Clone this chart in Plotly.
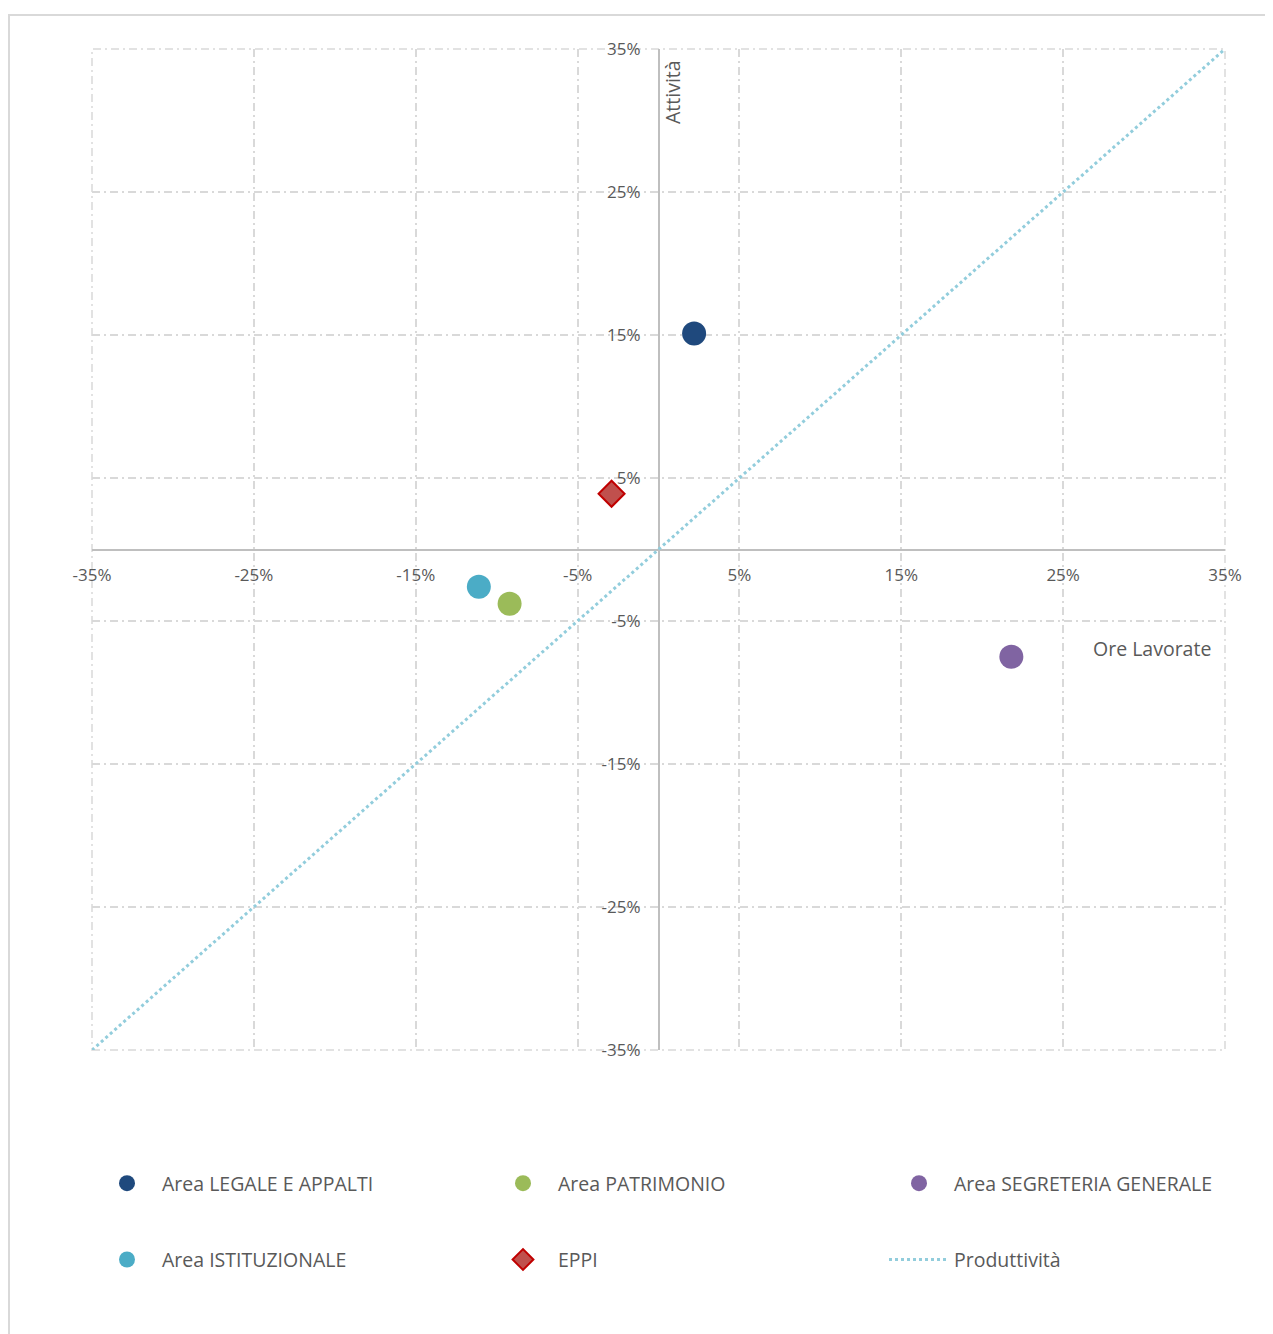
import plotly.graph_objects as go

# ---- data (percent) ----
series_names = ["Area LEGALE E APPALTI", "Area PATRIMONIO", "Area SEGRETERIA GENERALE",
                "Area ISTITUZIONALE", "EPPI"]
ore_lavorate = [2.2, -9.2, 21.8, -11.1, -2.9]
attivita = [15.1, -3.8, -7.5, -2.6, 3.9]
line_name = "Produttività"
line_x = [-35, 35]
line_y = [-35, 35]
tick_vals = [-35, -25, -15, -5, 5, 15, 25, 35]
tick_text = ["-35%", "-25%", "-15%", "-5%", "5%", "15%", "25%", "35%"]

colors = ["#1f497d", "#9bbb59", "#8064a2", "#4bacc6", "#c0504d"]
legend_ids = ["legend", "legend2", "legend3", "legend", "legend2"]
legend_rows = ["r1", "r1", "r1", "r2", "r2"]

FONT = "Open Sans"
TXT = "#595959"
GRID = "#d9d9d9"
DASHDOT = "8px,4px,2px,4px"

W, H = 1265, 1326  # page has an 8px body margin

fig = go.Figure()
for i, name in enumerate(series_names):
    if name == "EPPI":
        marker = dict(symbol="diamond", size=20, color=colors[i],
                      line=dict(color="#c00000", width=2))
    else:
        marker = dict(symbol="circle", size=24, color=colors[i], line=dict(width=0))
    fig.add_trace(go.Scatter(x=[ore_lavorate[i]], y=[attivita[i]], mode="markers",
                             name=name, marker=marker, legend=legend_ids[i],
                             legendgroup=legend_rows[i]))

fig.add_trace(go.Scatter(x=line_x, y=line_y, mode="lines", name=line_name,
                         line=dict(color="#92cddc", width=3, dash="dot"),
                         legend="legend3", legendgroup="r2"))

axis_common = dict(
    range=[-35, 35], tickmode="array", tickvals=tick_vals, ticktext=tick_text,
    showgrid=True, gridcolor=GRID, gridwidth=1.5, griddash=DASHDOT,
    zeroline=True, zerolinecolor="#bfbfbf", zerolinewidth=2,
    showline=False, ticks="", anchor="free", position=0.5,
    tickfont=dict(family=FONT, size=17, color=TXT), automargin=False,
)

legend_common = dict(orientation="v", xref="container", yref="container",
                     xanchor="left", yanchor="top", y=1 - 1156 / H,
                     tracegroupgap=48, itemwidth=60,
                     font=dict(family=FONT, size=19.5, color=TXT),
                     bgcolor="rgba(0,0,0,0)", traceorder="grouped")

fig.update_layout(
    width=W, height=H,
    margin=dict(l=84, r=48, t=41, b=284, autoexpand=False),
    paper_bgcolor="white", plot_bgcolor="white",
    font=dict(family=FONT, size=19.5, color=TXT),
    xaxis=dict(**axis_common, ticklabelstandoff=13),
    yaxis=dict(**axis_common, ticklabelstandoff=18),
    legend=dict(**legend_common, x=84 / W),
    legend2=dict(**legend_common, x=480 / W),
    legend3=dict(**legend_common, x=876 / W),
    showlegend=True,
)

fig.add_annotation(text="Attività", xref="paper", yref="paper",
                   x=(673 - 92) / 1133, y=(1050 - 92) / 1001, textangle=-90,
                   xanchor="center", yanchor="middle",
                   showarrow=False, font=dict(family=FONT, size=19.5, color=TXT))
fig.add_annotation(text="Ore Lavorate", xref="paper", yref="paper",
                   x=(1213 - 92) / 1133, y=(1050 - 648) / 1001, xanchor="right",
                   yanchor="middle",
                   showarrow=False, font=dict(family=FONT, size=19.5, color=TXT))

# plot-area frame (edge gridlines)
fig.add_shape(type="rect", xref="paper", yref="paper", x0=0, x1=1, y0=0, y1=1,
              line=dict(color=GRID, width=1.5, dash=DASHDOT), layer="below")

# outer chart-area border
fig.add_shape(type="rect", xref="paper", yref="paper",
              x0=(9 - 92) / 1133, x1=(1300 - 92) / 1133,
              y0=(1050 - 1360) / 1001, y1=(1050 - 15) / 1001,
              line=dict(color=GRID, width=2), layer="below")

fig.write_html("out.html")
